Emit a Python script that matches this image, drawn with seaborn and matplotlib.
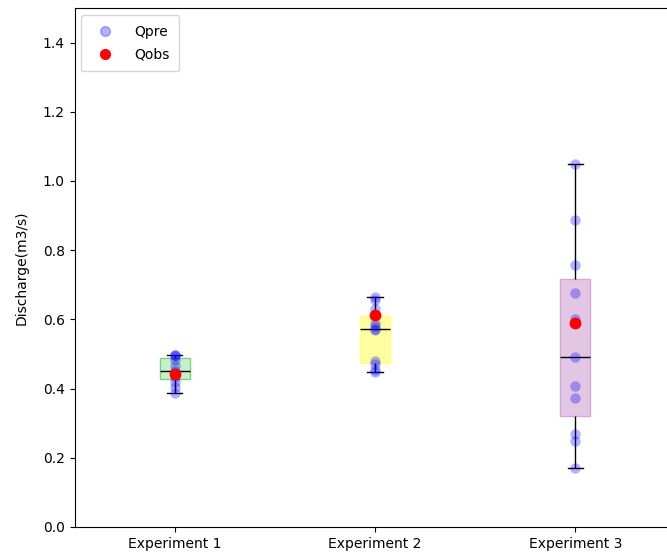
import pandas as pd
import matplotlib
matplotlib.use("Agg")
import matplotlib.pyplot as plt
import seaborn as sns
from matplotlib.lines import Line2D

experiments = ["Experiment 1", "Experiment 2", "Experiment 3"]

qpre_exp1 = [0.388, 0.405, 0.420, 0.434, 0.445, 0.451, 0.465, 0.482, 0.494, 0.496, 0.497]
qpre_exp2 = [0.447, 0.455, 0.470, 0.480, 0.570, 0.572, 0.580, 0.590, 0.630, 0.655, 0.666]
qpre_exp3 = [0.170, 0.249, 0.269, 0.372, 0.408, 0.491, 0.601, 0.676, 0.756, 0.887, 1.050]

qobs = [0.443, 0.613, 0.589]

face_colors = ["#c6f0c6", "#ffffa0", "#e3c6e3"]
edge_colors = ["#7fd07f", "#ffff80", "#d3a8d6"]

df = pd.DataFrame({
    "experiment": [experiments[0]] * len(qpre_exp1)
    + [experiments[1]] * len(qpre_exp2)
    + [experiments[2]] * len(qpre_exp3),
    "discharge": qpre_exp1 + qpre_exp2 + qpre_exp3,
})
obs = pd.DataFrame({"experiment": experiments, "discharge": qobs})

fig = plt.figure(figsize=(6.67, 5.55), dpi=100)
ax = fig.add_axes([74.5 / 667, 28 / 555, 601 / 667, 519 / 555])

sns.boxplot(data=df, x="experiment", y="discharge", order=experiments,
            width=0.15, saturation=1, linecolor="black", linewidth=1,
            showfliers=False, ax=ax)
for patch, fc, ec in zip(ax.patches, face_colors, edge_colors):
    patch.set_facecolor(fc)
    patch.set_edgecolor(ec)

sns.stripplot(data=df, x="experiment", y="discharge", order=experiments,
              jitter=False, color="blue", alpha=0.3, size=7.5, zorder=3, ax=ax)
sns.stripplot(data=obs, x="experiment", y="discharge", order=experiments,
              jitter=False, color="red", size=8.5, zorder=4, ax=ax)

ax.set_ylim(0, 1.5)
ax.set_yticks([0.0, 0.2, 0.4, 0.6, 0.8, 1.0, 1.2, 1.4])
ax.set_xlim(-0.5, 2.5)
ax.set_xlabel("")
ax.set_ylabel("Discharge(m3/s)", labelpad=10)

handles = [
    Line2D([], [], marker="o", linestyle="", color="blue", alpha=0.3, markersize=7, label="Qpre"),
    Line2D([], [], marker="o", linestyle="", color="red", markersize=7, label="Qobs"),
]
ax.legend(handles=handles, loc="upper left", borderpad=0.7, handlelength=2.0,
          handletextpad=1.1, labelspacing=0.65)

fig.savefig("out.png", dpi=100)
